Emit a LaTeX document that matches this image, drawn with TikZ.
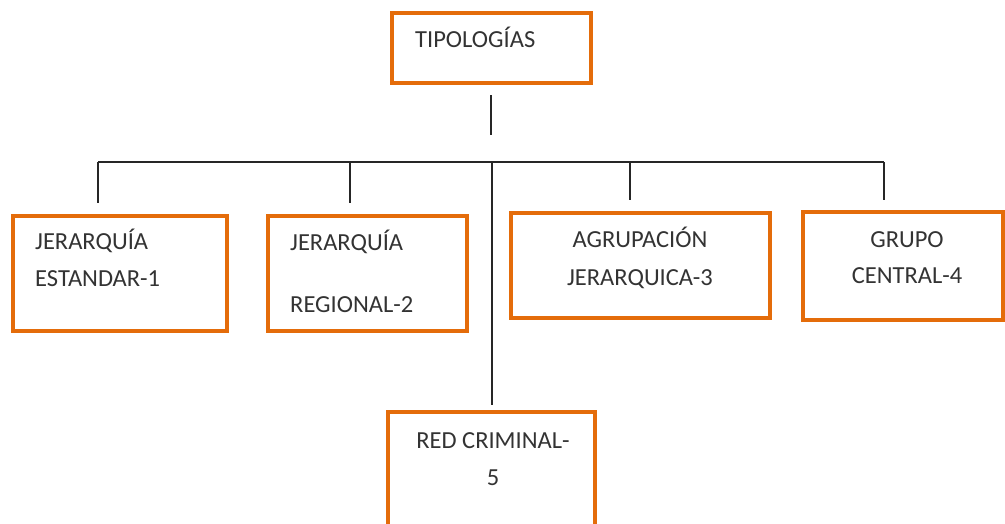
\documentclass[tikz,border=0pt]{standalone}
\usepackage{fontspec}
\setmainfont{Carlito}
\usetikzlibrary{positioning}
\definecolor{naranja}{RGB}{228,108,10}

\begin{document}
\begin{tikzpicture}[x=1pt,y=-1pt,
  caja/.style={draw=naranja, line width=3.2pt, inner sep=0pt},
  linea/.style={line width=1.5pt, black!85},
  texto/.style={font=\fontsize{24.5}{37}\selectfont, text=black!80, inner sep=0pt}]
\useasboundingbox (0,0) rectangle (1005,523);
% cajas
\node[caja, minimum width=199pt, minimum height=70pt] (tipo) at (491.5,48) {};
\node[caja, minimum width=214pt, minimum height=115pt] (jer1) at (120,273.5) {};
\node[caja, minimum width=199pt, minimum height=115pt] (jer2) at (367.5,273.5) {};
\node[caja, minimum width=259pt, minimum height=105pt] (agr3) at (640.5,265.5) {};
\node[caja, minimum width=200pt, minimum height=108pt] (gru4) at (903,266) {};
\node[caja, minimum width=207pt, minimum height=148pt] (red5) at (491.5,486) {};
% textos (base = ultima linea)
\node[texto, anchor=base west] (ttipo) at (415,47) {TIPOLOGÍAS};
\node[texto, anchor=base west, align=left] (tjer1) at (35,286) {JERARQUÍA\\ESTANDAR-1};
\node[texto, anchor=base west, align=left] (tjer2) at (290,312) {JERARQUÍA\\[25pt]REGIONAL-2};
\node[texto, anchor=base, align=center] (tagr3) at (640,285) {AGRUPACIÓN\\[1pt]JERARQUICA-3};
\node[texto, anchor=base, align=center] (tgru4) at (907,283) {GRUPO\\[-1pt]CENTRAL-4};
\node[texto, anchor=base, align=center] (tred5) at (493,485) {RED CRIMINAL-\\5};
% conectores
\coordinate (c0) at (491,95);
\coordinate (c1) at (491,135);
\coordinate (h1) at (98,162);
\coordinate (h4) at (884,162);
\coordinate (b1) at (98,203);
\coordinate (b2) at (350,203);
\coordinate (b3) at (630,200);
\coordinate (b4) at (884,200);
\coordinate (b5) at (492,405);
\draw[linea] (c0) -- (c1);
\draw[linea] (h1) -- (h4);
\foreach \b in {b1,b2,b3,b4,b5} {
  \draw[linea] (\b |- h1) -- (\b);
}
\end{tikzpicture}
\end{document}
